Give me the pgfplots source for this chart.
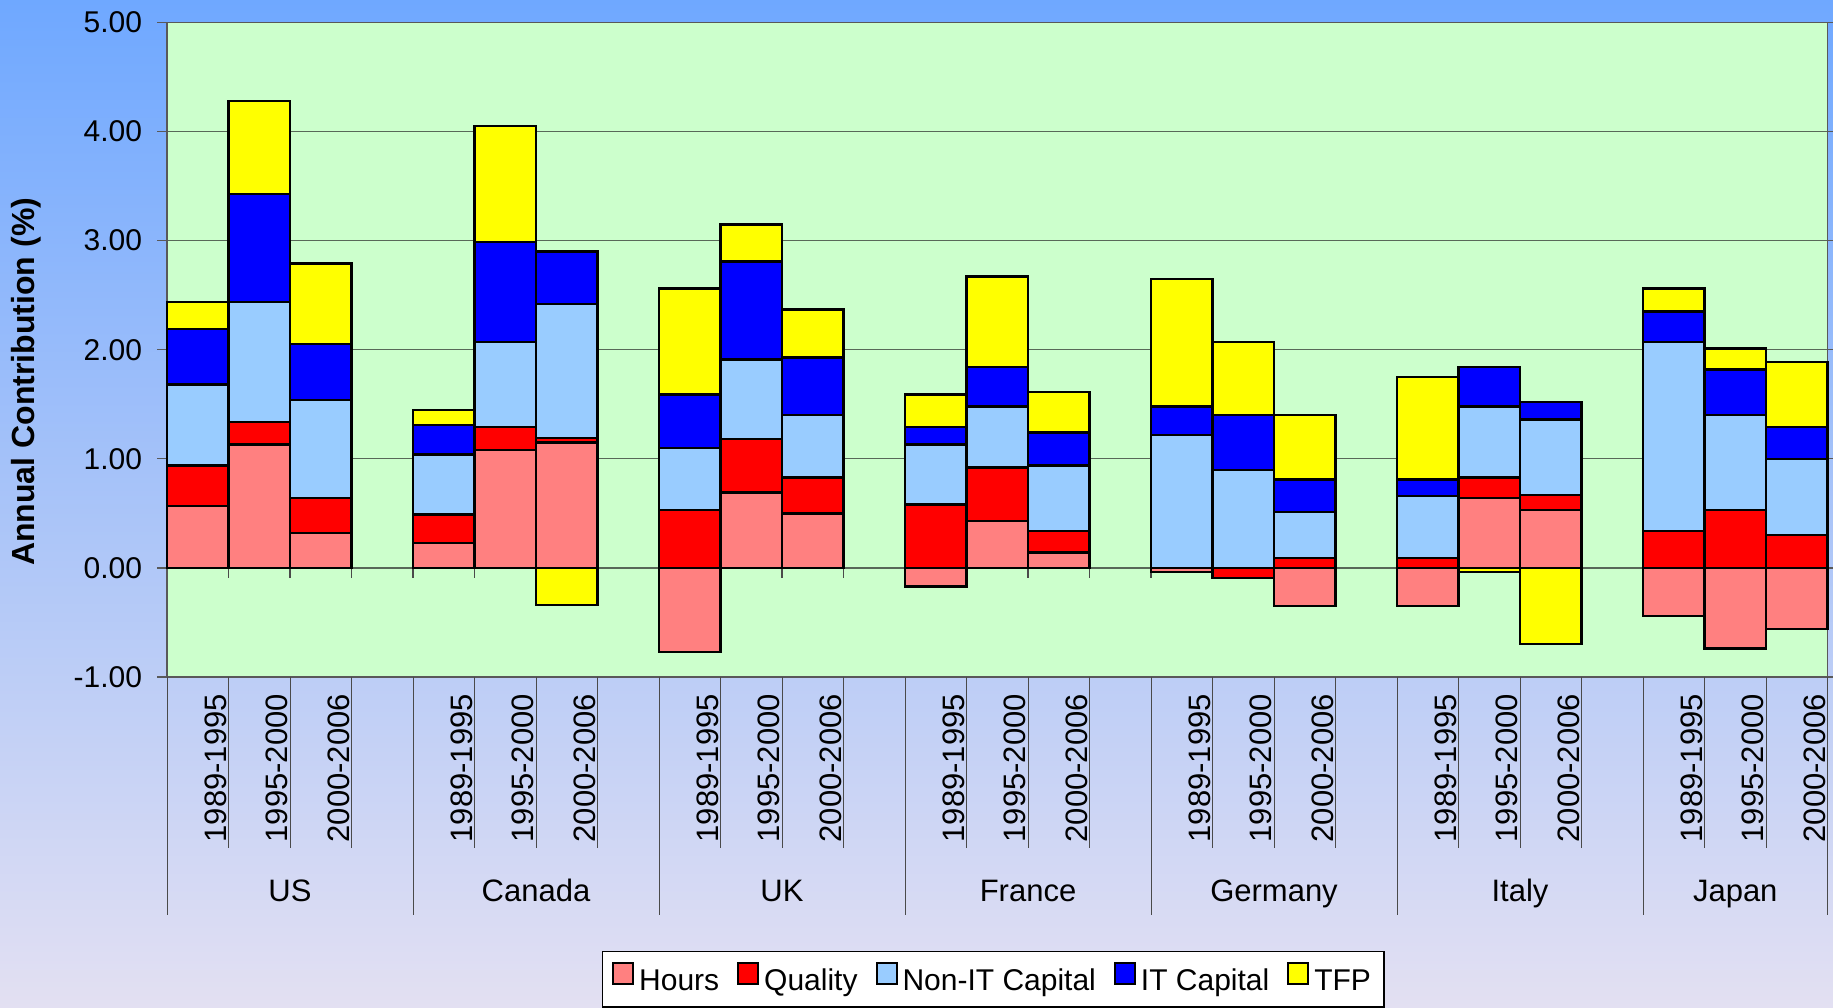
\documentclass[border=0pt]{standalone}
\usepackage{fontspec}
\setmainfont{Liberation Sans}
\usepackage{pgfplots}
\usepackage{pgfplotstable}
\pgfplotsset{compat=1.18}

\definecolor{bgtop}{HTML}{6FA8FF}
\definecolor{bgbot}{HTML}{E3E0F2}
\definecolor{plotbg}{HTML}{CCFFCC}
\definecolor{gridcol}{HTML}{586858}
\definecolor{sepcol}{HTML}{4A4A4A}
\definecolor{chours}{HTML}{FF8080}
\definecolor{cqual}{HTML}{FF0000}
\definecolor{cnonit}{HTML}{99CCFF}
\definecolor{cit}{HTML}{0000FF}
\definecolor{ctfp}{HTML}{FFFF00}

% growth contributions, one row per country/period; x = slot on the axis
\pgfplotstableread{
x  hours quality nonit it   tfp
0   0.57  0.37  0.74  0.51  0.25
1   1.13  0.21  1.10  0.99  0.85
2   0.32  0.32  0.90  0.51  0.74
4   0.23  0.26  0.55  0.27  0.14
5   1.08  0.21  0.78  0.92  1.06
6   1.15  0.04  1.23  0.48 -0.34
8  -0.77  0.53  0.57  0.49  0.97
9   0.69  0.49  0.73  0.90  0.34
10  0.50  0.33  0.57  0.53  0.44
12 -0.17  0.58  0.55  0.16  0.30
13  0.43  0.49  0.56  0.36  0.83
14  0.14  0.20  0.60  0.30  0.37
16 -0.04  0.00  1.22  0.26  1.17
17  0.00 -0.09  0.90  0.50  0.67
18 -0.35  0.09  0.42  0.30  0.59
20 -0.35  0.09  0.57  0.15  0.94
21  0.64  0.19  0.65  0.36 -0.04
22  0.53  0.14  0.69  0.16 -0.70
24 -0.44  0.34  1.73  0.28  0.21
25 -0.74  0.53  0.87  0.42  0.19
26 -0.56  0.30  0.70  0.29  0.60
}\contrib

\pgfplotsset{
  frame/.style={
    at={(83.5bp,165.5bp)}, anchor=south west,
    scale only axis, width=830.25bp, height=327.25bp,
    xmin=-0.5, xmax=26.5, ymin=-1, ymax=5,
    ybar stacked, bar width=1,
    clip=false,
  },
  seg/.style={fill=#1, draw=black, line width=1.2bp},
}

\newcommand{\tickfont}{\fontsize{15bp}{17bp}\selectfont}
\newcommand{\catfont}{\fontsize{15.5bp}{18bp}\selectfont}

\begin{document}
\begin{tikzpicture}
\useasboundingbox (0,0) rectangle (916.5bp,504bp);
\clip (0,0) rectangle (916.5bp,504bp);
\shade[top color=bgtop, bottom color=bgbot] (0,0) rectangle (916.5bp,504bp);

% positive parts, axis decorations and legend
\begin{axis}[frame,
  axis background/.style={fill=plotbg},
  axis line style={draw=gray!70!black, line width=0.6bp},
  ymajorgrids, grid style={color=gridcol, line width=0.6bp},
  ytick={-1,0,1,2,3,4,5},
  yticklabel style={font=\tickfont, xshift=-4bp,
    /pgf/number format/fixed, /pgf/number format/zerofill,
    /pgf/number format/precision=2, /pgf/number format/assume math mode=true},
  ytick style={draw=gray!70!black, line width=0.6bp},
  tick align=outside, major tick length=5bp,
  xtick={0,1,2,4,5,6,8,9,10,12,13,14,16,17,18,20,21,22,24,25,26},
  xticklabels={1989-1995,1995-2000,2000-2006,1989-1995,1995-2000,2000-2006,
    1989-1995,1995-2000,2000-2006,1989-1995,1995-2000,2000-2006,
    1989-1995,1995-2000,2000-2006,1989-1995,1995-2000,2000-2006,
    1989-1995,1995-2000,2000-2006},
  xticklabel style={font=\catfont, rotate=90, anchor=east, yshift=-9bp},
  xtick style={draw=none},
  ylabel={\bfseries Annual Contribution (\%)},
  ylabel style={font=\fontsize{16bp}{19bp}\selectfont,
    at={(axis description cs:-0.0849,0.451)}, anchor=center},
  legend columns=5,
  legend style={at={(0.2617,-0.4186)}, anchor=north west,
    draw=black, line width=0.6bp, fill=white,
    font=\fontsize{15bp}{18bp}\selectfont,
    inner xsep=5bp, inner ysep=5bp, nodes={inner sep=1.5bp},
    /tikz/every odd column/.append style={column sep=1bp},
    /tikz/every even column/.append style={column sep=7.5bp}},
  legend image code/.code={\draw[#1, line width=1bp] (0bp,-1bp) rectangle (10bp,9.5bp);},
]
\addplot[seg=chours] table[x=x, y expr={max(\thisrow{hours},0)}] {\contrib};
\addlegendentry{Hours}
\addplot[seg=cqual] table[x=x, y expr={max(\thisrow{quality},0)}] {\contrib};
\addlegendentry{Quality}
\addplot[seg=cnonit] table[x=x, y expr={max(\thisrow{nonit},0)}] {\contrib};
\addlegendentry{Non-IT Capital}
\addplot[seg=cit] table[x=x, y expr={max(\thisrow{it},0)}] {\contrib};
\addlegendentry{IT Capital}
\addplot[seg=ctfp] table[x=x, y expr={max(\thisrow{tfp},0)}] {\contrib};
\addlegendentry{TFP}

% category axis at zero: small ticks between slots
\pgfplotsinvokeforeach{0.5,1.5,2.5,3.5,4.5,5.5,6.5,7.5,8.5,9.5,10.5,11.5,12.5,13.5,14.5,15.5,16.5,17.5,18.5,19.5,20.5,21.5,22.5,23.5,24.5,25.5}{
  \draw[sepcol, line width=0.6bp] (axis cs:#1,0) -- (axis cs:#1,-0.09);
}
% multi-level label separators
\pgfplotsinvokeforeach{0.5,1.5,2.5,4.5,5.5,6.5,8.5,9.5,10.5,12.5,13.5,14.5,16.5,17.5,18.5,20.5,21.5,22.5,24.5,25.5}{
  \draw[sepcol, line width=0.5bp] (axis cs:#1,-1) -- (axis cs:#1,-2.57);
}
\pgfplotsinvokeforeach{-0.5,3.5,7.5,11.5,15.5,19.5,23.5,26.5}{
  \draw[sepcol, line width=0.5bp] (axis cs:#1,-1) -- (axis cs:#1,-3.18);
}
\node[font=\catfont, anchor=base] at (axis cs:1.5,-3.06) {US};
\node[font=\catfont, anchor=base] at (axis cs:5.5,-3.06) {Canada};
\node[font=\catfont, anchor=base] at (axis cs:9.5,-3.06) {UK};
\node[font=\catfont, anchor=base] at (axis cs:13.5,-3.06) {France};
\node[font=\catfont, anchor=base] at (axis cs:17.5,-3.06) {Germany};
\node[font=\catfont, anchor=base] at (axis cs:21.5,-3.06) {Italy};
\node[font=\catfont, anchor=base] at (axis cs:25,-3.06) {Japan};
\end{axis}

% negative parts, stacked down from zero
\begin{axis}[frame, hide axis]
\addplot[seg=chours] table[x=x, y expr={min(\thisrow{hours},0)}] {\contrib};
\addplot[seg=cqual] table[x=x, y expr={min(\thisrow{quality},0)}] {\contrib};
\addplot[seg=cnonit] table[x=x, y expr={min(\thisrow{nonit},0)}] {\contrib};
\addplot[seg=cit] table[x=x, y expr={min(\thisrow{it},0)}] {\contrib};
\addplot[seg=ctfp] table[x=x, y expr={min(\thisrow{tfp},0)}] {\contrib};
\end{axis}
\end{tikzpicture}
\end{document}
